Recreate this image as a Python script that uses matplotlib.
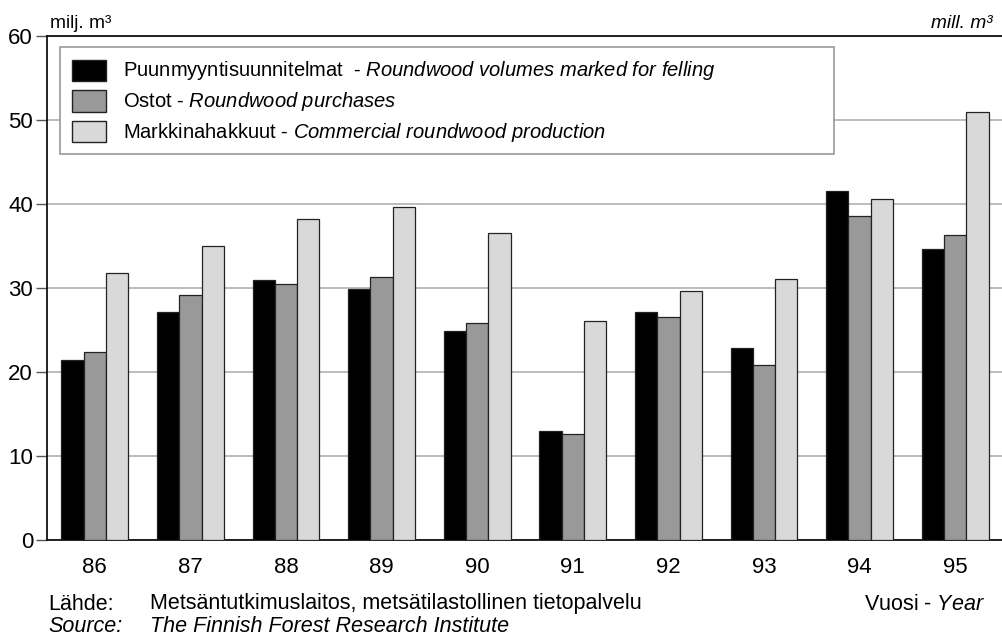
import matplotlib.pyplot as plt
from matplotlib.patches import Rectangle
import numpy as np

plt.rcParams['font.family'] = ['Liberation Sans', 'DejaVu Sans']
plt.rcParams['mathtext.fontset'] = 'custom'
plt.rcParams['mathtext.rm'] = 'Liberation Sans'
plt.rcParams['mathtext.it'] = 'Liberation Sans:italic'

# Data (milj. m3)
years = ['86', '87', '88', '89', '90', '91', '92', '93', '94', '95']
marked = [21.4, 27.2, 31.0, 29.9, 24.9, 13.0, 27.1, 22.9, 41.5, 34.7]
purchases = [22.4, 29.2, 30.5, 31.35, 25.8, 12.65, 26.6, 20.8, 38.6, 36.3]
production = [31.8, 35.0, 38.25, 39.7, 36.5, 26.1, 29.6, 31.1, 40.55, 51.0]

series = [marked, purchases, production]
colors = ['#000000', '#999999', '#d9d9d9']
labels = [r'Puunmyyntisuunnitelmat  - $\it{Roundwood\ volumes\ marked\ for\ felling}$',
          r'Ostot - $\it{Roundwood\ purchases}$',
          r'Markkinahakkuut - $\it{Commercial\ roundwood\ production}$']

W, H = 1003, 639
fig = plt.figure(figsize=(W / 100, H / 100), dpi=100)
ax = fig.add_axes([47 / W, 1 - 540 / H, (W - 47) / W, (540 - 36) / H])

x = np.arange(len(years))
bw = 0.7 / 3
for i, (vals, c) in enumerate(zip(series, colors)):
    ax.bar(x + (i - 1) * bw, vals, width=bw, color=c, edgecolor='#222222',
           linewidth=0.9, zorder=3)

ax.set_xlim(-0.5, len(years) - 0.5)
ax.set_ylim(0, 60)
ax.set_yticks(range(0, 61, 10))
ax.set_xticks(x)
ax.set_xticklabels(years)
ax.tick_params(axis='x', length=0, pad=12, labelsize=16)
ax.tick_params(axis='y', length=8, width=1, color='#555555', labelsize=16, pad=2)
ax.yaxis.grid(True, color='#b0b0b0', linewidth=1.2, zorder=0)
ax.set_axisbelow(True)
for s in ['left', 'bottom', 'top']:
    ax.spines[s].set_color('#111111')
    ax.spines[s].set_linewidth(1.3)
ax.spines['right'].set_visible(False)

# legend drawn by hand (mixed upright / italic labels)
def fx(px):
    return px / W

def fy(py):
    return 1 - py / H

fig.patches.append(Rectangle((fx(60), fy(154)), fx(834) - fx(60), fy(47) - fy(154),
                             transform=fig.transFigure, facecolor='white',
                             edgecolor='#999999', linewidth=1.2, zorder=5))
for i, (c, lab) in enumerate(zip(colors, labels)):
    top = 60 + i * 30.5
    fig.patches.append(Rectangle((fx(72), fy(top + 21)), fx(106) - fx(72), fy(top) - fy(top + 21),
                                 transform=fig.transFigure, facecolor=c,
                                 edgecolor='#222222', linewidth=1, zorder=6))
    fig.text(fx(123), fy(top + 11), lab, fontsize=14.5, va='center', ha='left', zorder=7)

fig.text(fx(50), fy(24), 'milj. m³', fontsize=13.8, va='center', ha='left')
fig.text(fx(993), fy(24), 'mill. m³', fontsize=13.8, style='italic', va='center', ha='right')

fs = 15.5
fig.text(fx(48), fy(604), 'Lähde:', fontsize=fs, va='center')
fig.text(fx(150), fy(604), 'Metsäntutkimuslaitos, metsätilastollinen tietopalvelu', fontsize=fs, va='center')
fig.text(fx(48), fy(627), 'Source:', fontsize=fs, style='italic', va='center')
fig.text(fx(150), fy(627), 'The Finnish Forest Research Institute', fontsize=fs, style='italic', va='center')
fig.text(fx(985), fy(604), r'Vuosi - $\it{Year}$', fontsize=fs, va='center', ha='right')

fig.savefig('out.png', dpi=100)
